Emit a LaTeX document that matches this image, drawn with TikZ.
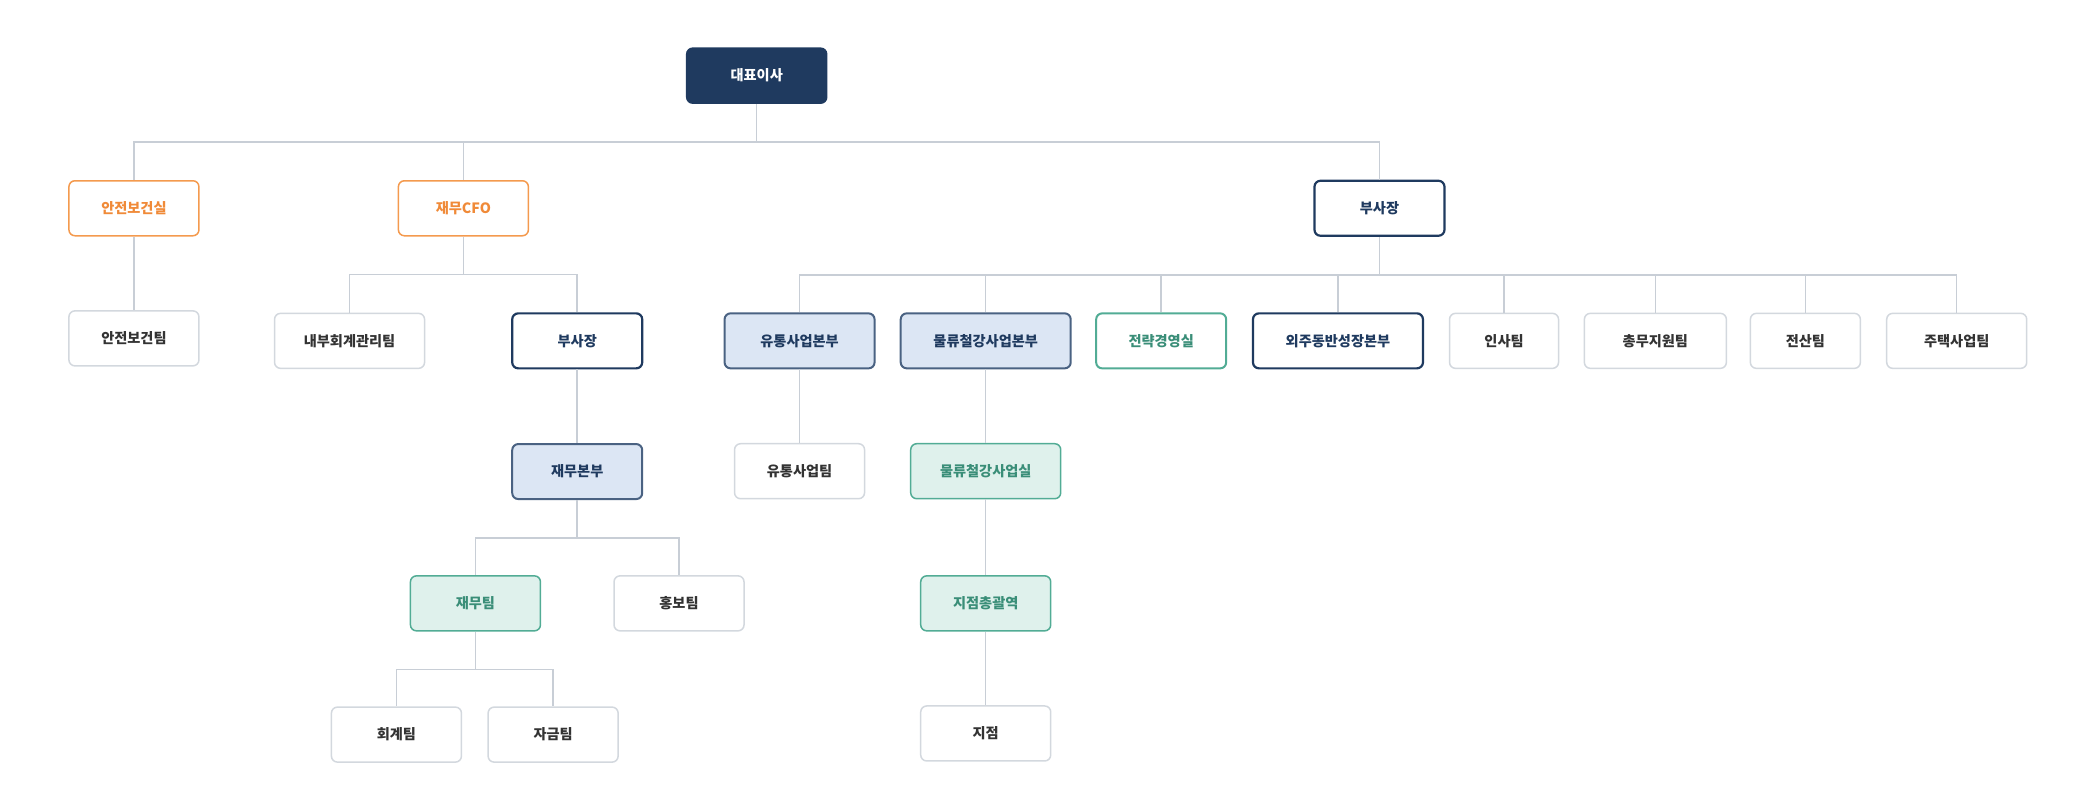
\documentclass[tikz,border=0pt]{standalone}
\usepackage{fontspec}
\newfontfamily\kr{Noto Sans CJK KR}
\usetikzlibrary{positioning}

\definecolor{navy}{HTML}{1F3A5F}
\definecolor{navyline}{HTML}{4A6282}
\definecolor{paleblue}{HTML}{DCE6F4}
\definecolor{orangeline}{HTML}{F49A4E}
\definecolor{orangetext}{HTML}{F08A38}
\definecolor{greenline}{HTML}{52AC95}
\definecolor{greentext}{HTML}{3A8E78}
\definecolor{palegreen}{HTML}{DFF1EC}
\definecolor{greyline}{HTML}{D3D8DE}
\definecolor{linkgrey}{HTML}{C8CED6}
\definecolor{darktext}{HTML}{333333}

\begin{document}
\begin{tikzpicture}[x=0.6696pt, y=-0.6696pt, node distance=36.8pt,
    every node/.style={draw=greyline, line width=0.75pt, rounded corners=3pt, fill=white,
      text=darktext, minimum width=65pt, minimum height=27.5pt, inner sep=0pt,
      font=\kr\bfseries\fontsize{7.1}{8.5}\selectfont},
    top box/.style={draw=navy, fill=navy, text=white, minimum width=70pt},
    orange box/.style={draw=orangeline, text=orangetext},
    navy box/.style={draw=navy, line width=1.1pt, text=navy},
    blue box/.style={draw=navyline, line width=1pt, fill=paleblue, text=navy},
    green line/.style={draw=greenline, line width=1pt, text=greentext},
    green box/.style={draw=greenline, fill=palegreen, text=greentext},
    link/.style={draw=linkgrey, line width=0.75pt},
    org/.style={to path={(\tikztostart.south) -- ++(0,-19pt) -| (\tikztotarget.north)}}]
    \useasboundingbox (0,0) rectangle (1568,597);

    \node[top box] (ceo) at (565,56.5) {대표이사};

    \node[orange box] (safety office) at (100,155.5) {안전보건실};
    \node[orange box] (cfo) at (346,155.5) {재무CFO};
    \node[navy box] (vp) at (1030,155.5) {부사장};

    \node (safety team) [below=of safety office] {안전보건팀};
    \node[minimum width=75pt] (audit team) at (261,254.5) {내부회계관리팀};
    \node[navy box] (cfo vp) at (431,254.5) {부사장};
    \node[blue box, minimum width=75pt] (retail hq) at (597,254.5) {유통사업본부};
    \node[blue box, minimum width=85pt] (steel hq) at (736,254.5) {물류철강사업본부};
    \node[green line] (strategy office) at (867,254.5) {전략경영실};
    \node[navy box, minimum width=85pt] (partner hq) at (999,254.5) {외주동반성장본부};
    \node[minimum width=54.5pt] (hr team) at (1123,254.5) {인사팀};
    \node[minimum width=71pt] (admin team) at (1236,254.5) {총무지원팀};
    \node[minimum width=55pt] (it team) at (1348,254.5) {전산팀};
    \node[minimum width=70pt] (housing team) at (1461,254.5) {주택사업팀};

    \node[blue box] (finance hq) [below=of cfo vp] {재무본부};
    \node (retail team) [below=of retail hq] {유통사업팀};
    \node[green box, minimum width=75pt] (steel office) [below=of steel hq] {물류철강사업실};

    \node[green box] (finance team) at (355,450.5) {재무팀};
    \node (pr team) at (507,450.5) {홍보팀};
    \node[green box] (branch head) at (736,450.5) {지점총괄역};

    \node (accounting team) at (296,548.5) {회계팀};
    \node (fund team) at (413,548.5) {자금팀};
    \node (branch) [below=of branch head] {지점};

    % connectors
    \draw[link] (ceo) to[org] (safety office) (ceo) to[org] (cfo) (ceo) to[org] (vp);
    \draw[link] (safety office) -- (safety team);
    \draw[link] (cfo) to[org] (audit team) (cfo) to[org] (cfo vp);
    \draw[link] (vp) to[org] (retail hq) (vp) to[org] (steel hq) (vp) to[org] (strategy office)
      (vp) to[org] (partner hq) (vp) to[org] (hr team) (vp) to[org] (admin team)
      (vp) to[org] (it team) (vp) to[org] (housing team);
    \draw[link] (cfo vp) -- (finance hq);
    \draw[link] (retail hq) -- (retail team);
    \draw[link] (steel hq) -- (steel office);
    \draw[link] (steel office) -- (branch head);
    \draw[link] (branch head) -- (branch);
    \draw[link] (finance hq) to[org] (finance team) (finance hq) to[org] (pr team);
    \draw[link] (finance team) to[org] (accounting team) (finance team) to[org] (fund team);
\end{tikzpicture}
\end{document}
